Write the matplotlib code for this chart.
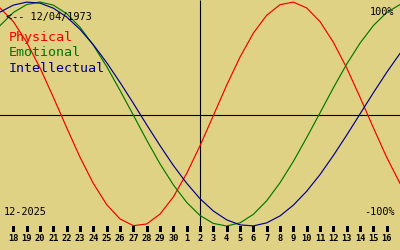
import matplotlib
matplotlib.use("Agg")
import matplotlib.pyplot as plt

# ---- data ----
day_labels = [18, 19, 20, 21, 22, 23, 24, 25, 26, 27, 28, 29, 30,
              1, 2, 3, 4, 5, 6, 7, 8, 9, 10, 11, 12, 13, 14, 15, 16]
x_days = list(range(0, 31))
physical = [0.947, 0.825, 0.641, 0.412, 0.150, -0.122, -0.386, -0.620, -0.809, -0.937,
            -0.997, -0.982, -0.894, -0.741, -0.531, -0.284, -0.014, 0.257, 0.508, 0.722,
            0.881, 0.976, 0.999, 0.947, 0.825, 0.641, 0.412, 0.150, -0.122, -0.386, -0.620]
emotional = [0.789, 0.906, 0.977, 1.000, 0.972, 0.896, 0.775, 0.614, 0.424, 0.211,
             -0.010, -0.233, -0.445, -0.632, -0.789, -0.906, -0.977, -1.000, -0.972, -0.896,
             -0.775, -0.614, -0.424, -0.211, 0.010, 0.233, 0.445, 0.632, 0.789, 0.906, 0.977]
intellectual = [0.910, 0.972, 0.999, 0.990, 0.945, 0.866, 0.756, 0.618, 0.459, 0.282,
                0.096, -0.096, -0.282, -0.459, -0.618, -0.756, -0.866, -0.945, -0.990, -0.999,
                -0.972, -0.910, -0.814, -0.690, -0.541, -0.371, -0.189, 0.000, 0.189, 0.371, 0.541]
today_x = 15
birth_text = "<-- 12/04/1973"
month_text = "12-2025"
series_names = ["Physical", "Emotional", "Intellectual"]
series_colors = ["#f00000", "#007800", "#000090"]

BG = "#e0d284"
W, H = 400, 250
fig = plt.figure(figsize=(4, 2.5), dpi=100, facecolor=BG)
ax = fig.add_axes([0, 0, 1, 1])
ax.set_facecolor(BG)
ax.set_xlim(0, 30)
# pixel y -> value: v = (114 - py)/112
ax.set_ylim((114 - 250) / 112, 114 / 112)
ax.axis("off")

def py2v(py):
    return (114 - py) / 112

mono = "DejaVu Sans Mono"

# axes lines
ax.axhline(py2v(115), color="black", lw=0.8, snap=True)
ax.vlines(today_x, py2v(231), py2v(0), color="black", lw=0.8, snap=True)

# curves
for vals, c in zip([physical, emotional, intellectual], series_colors):
    ax.plot(x_days, vals, color=c, lw=0.85)

# ticks and labels
tick_pos = list(range(1, len(day_labels) + 1))
ax.vlines(tick_pos, py2v(231), py2v(225.5), color="black", lw=0.75, antialiased=False)
for p, lab in zip(tick_pos, day_labels):
    ax.text(p, py2v(238.5), str(lab), ha="center", va="center", fontsize=6.2,
            family=mono, color="black", fontweight="bold")

# texts
def ptext(px, py, s, **kw):
    fig.text(px / W, 1 - py / H, s, **kw)

ptext(6, 17, birth_text, ha="left", va="center", fontsize=7.4, family=mono, color="black")
for i, (name, c) in enumerate(zip(series_names, series_colors)):
    ptext(9, 38 + 15 * i, name, ha="left", va="center", fontsize=9.6, family=mono, color=c)
ptext(4, 212, month_text, ha="left", va="center", fontsize=7.4, family=mono, color="black")
ptext(394, 12, "100%", ha="right", va="center", fontsize=7.4, family=mono, color="black")
ptext(395, 212, "-100%", ha="right", va="center", fontsize=7.4, family=mono, color="black")

fig.savefig("out.png", dpi=100, facecolor=BG)
